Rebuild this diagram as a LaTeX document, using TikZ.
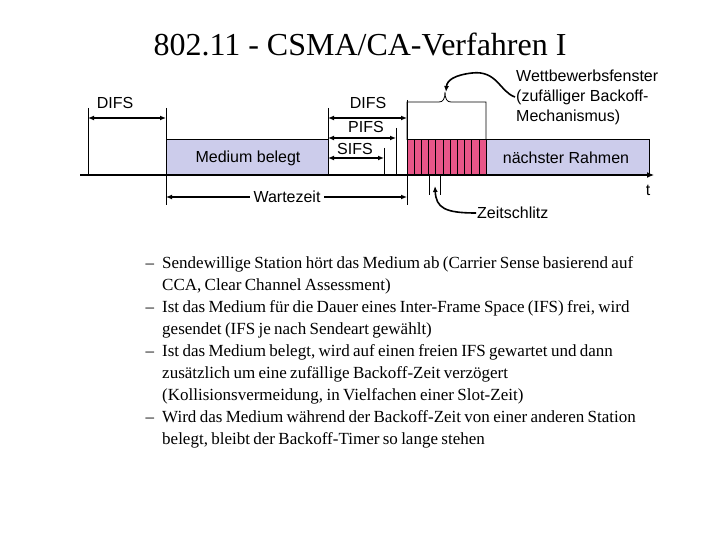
\documentclass[tikz,border=0pt]{standalone}
\usepackage{fontspec}
\setmainfont{Liberation Serif}
\setsansfont{Liberation Sans}
\usetikzlibrary{arrows.meta}
\definecolor{busy}{RGB}{204,204,235}
\definecolor{slot}{RGB}{232,86,136}
\tikzset{lbl/.style={font=\sffamily\fontsize{16}{20}\selectfont, inner sep=1pt},
         span/.style={{Latex[length=6pt,width=5pt]}-{Latex[length=6pt,width=5pt]}, line width=1.6pt},
         frame/.style={draw, line width=0.8pt},
         tick/.style={line width=0.8pt},
         curl/.style={-{Latex[length=6pt,width=5pt]}, line width=1.6pt}}
\begin{document}
\begin{tikzpicture}[x=1pt,y=-1pt]
  \useasboundingbox (0,0) rectangle (720,540);
  \node (title) at (360,44) {\fontsize{32}{36}\selectfont 802.11 - CSMA/CA-Verfahren I};

  % frames
  \node[frame, fill=busy, minimum width=162pt, minimum height=35pt, anchor=south west, inner sep=0pt] (busy) at (166,175) {};
  \node[lbl] (busylbl) at (248,158) {Medium belegt};
  \node[frame, fill=slot, minimum width=79pt, minimum height=35pt, anchor=south west, inner sep=0pt] (window) at (407,175) {};
  \foreach \i in {1,...,10} \draw[tick] (407+7.2*\i,140) -- (407+7.2*\i,175);
  \node[frame, fill=busy, minimum width=163pt, minimum height=35pt, anchor=south west, inner sep=0pt] (next) at (486,175) {};
  \node[lbl] (nextlbl) at (566,158) {nächster Rahmen};

  % time axis
  \coordinate (t0) at (80,175);
  \coordinate (t1) at (654,175);
  \draw[-{Latex[length=7pt,width=6pt]}, line width=1.2pt] (t0) -- (t1);
  \node[lbl] (t) at (648,190) {t};

  % ticks
  \draw[tick] (88,108) -- (88,175);
  \draw[tick] (166,108) -- (166,205);
  \draw[tick] (328,108) -- (328,175);
  \draw[tick] (407,100) -- (407,205);
  \draw[tick] (396,128) -- (396,175);
  \draw[tick] (384,148) -- (384,175);

  % spans
  \coordinate (d1a) at (88,118); \coordinate (d1b) at (166,118);
  \draw[span] (d1a) -- (d1b);
  \node[lbl] (difsa) at (115,103) {DIFS};
  \coordinate (d2a) at (328,118); \coordinate (d2b) at (407,118);
  \draw[span] (d2a) -- (d2b);
  \node[lbl] (difsb) at (368,103) {DIFS};
  \coordinate (pa) at (328,138); \coordinate (pb) at (396,138);
  \draw[span] (pa) -- (pb);
  \node[lbl] (pifs) at (366,127) {PIFS};
  \coordinate (sa) at (328,158); \coordinate (sb) at (384,158);
  \draw[span] (sa) -- (sb);
  \node[lbl] (sifs) at (355,149) {SIFS};
  \coordinate (wa) at (166,197); \coordinate (wb) at (407,197);
  \draw[span] (wa) -- (wb);
  \node[lbl, fill=white, inner xsep=4pt] (warte) at (287,197) {Wartezeit};

  % contention window brace
  \draw[tick] (407,140) -- (407,102) -- (439,102) .. controls (443,102) and (445,99) .. (445,92)
    .. controls (445,99) and (447,102) .. (451,102) -- (486,102) -- (486,140);
  \node[lbl, align=left, anchor=west] (cw) at (515,97) {Wettbewerbsfenster\\(zufälliger Backoff-\\Mechanismus)};
  \coordinate (cwtip) at (446,92);
  \draw[curl] (cw.west) .. controls (500,92) and (497,70) .. (472,73)
    .. controls (455,75) and (447,80) .. (cwtip);

  % slot
  \draw[tick] (429,175) -- (429,195);
  \draw[tick] (440,175) -- (440,195);
  \node[lbl, anchor=west] (slotlbl) at (476,213) {Zeitschlitz};
  \coordinate (slottip) at (435,186);
  \draw[curl] (slotlbl.west) .. controls (445,213) and (436,208) .. (slottip);

  % bullet list
  \node[anchor=north west, text width=510pt, inner sep=0pt] (list) at (140,246) {%
    \fontsize{17}{22}\selectfont
    \begin{list}{--}{\leftmargin=22pt\labelwidth=14pt\labelsep=8pt\itemsep=0pt\parsep=0pt\topsep=0pt}
    \item Sendewillige Station hört das Medium ab (Carrier Sense basierend auf CCA, Clear Channel Assessment)
    \item Ist das Medium für die Dauer eines Inter-Frame Space (IFS) frei, wird gesendet (IFS je nach Sendeart gewählt)
    \item Ist das Medium belegt, wird auf einen freien IFS gewartet und dann zusätzlich um eine zufällige Backoff-Zeit verzögert (Kollisionsvermeidung, in Vielfachen einer Slot-Zeit)
    \item Wird das Medium während der Backoff-Zeit von einer anderen Station belegt, bleibt der Backoff-Timer so lange stehen
    \end{list}};
\end{tikzpicture}
\end{document}
